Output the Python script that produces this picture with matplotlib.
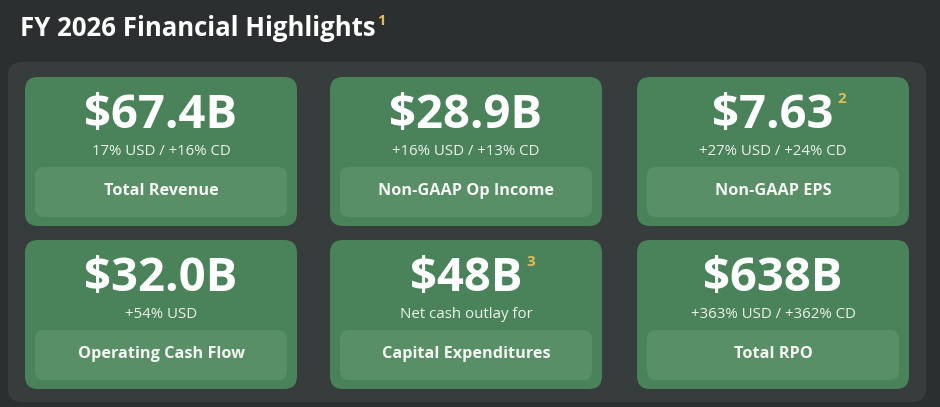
import matplotlib.pyplot as plt
from matplotlib.patches import FancyBboxPatch

# card contents, row by row
values = ["$67.4B", "$28.9B", "$7.63", "$32.0B", "$48B", "$638B"]
growth = ["17% USD / +16% CD", "+16% USD / +13% CD", "+27% USD / +24% CD",
          "+54% USD", "Net cash outlay for", "+363% USD / +362% CD"]
labels = ["Total Revenue", "Non-GAAP Op Income", "Non-GAAP EPS",
          "Operating Cash Flow", "Capital Expenditures", "Total RPO"]
notes = ["", "", "2", "", "3", ""]
title = "FY 2026 Financial Highlights"
title_note = "1"

BG = "#2b2f30"
PANEL = "#373c3d"
CARD = "#4a8259"
INNER = "#598f67"
GOLD = "#e3bd55"
FONT = "Open Sans"

fig = plt.figure(figsize=(9.4, 4.07), dpi=100, facecolor=BG)
ax = fig.add_axes([0, 0, 1, 1])
ax.set_xlim(0, 940)
ax.set_ylim(407, 0)
ax.axis("off")

# outer panel
ax.add_patch(FancyBboxPatch((8, 62), 918, 340, boxstyle="round,pad=0,rounding_size=14",
                            fc=PANEL, ec="none"))

card_x = [25, 330, 637]
card_y = [77, 240]
cw, ch = 272, 149

fig.canvas.draw()
rend = fig.canvas.get_renderer()
inv = ax.transData.inverted()

for i in range(6):
    x0 = card_x[i % 3]
    y0 = card_y[i // 3]
    cx = x0 + cw / 2
    ax.add_patch(FancyBboxPatch((x0, y0), cw, ch, boxstyle="round,pad=0,rounding_size=13",
                                fc=CARD, ec="none"))
    ax.add_patch(FancyBboxPatch((x0 + 10, y0 + 90), cw - 20, 50,
                                boxstyle="round,pad=0,rounding_size=9", fc=INNER, ec="none"))
    t = ax.text(cx, y0 + 51, values[i], ha="center", va="baseline", color="white",
                fontsize=34, fontweight="bold", family=FONT)
    ax.text(cx, y0 + 78, growth[i], ha="center", va="baseline", color="#eef3ee",
            fontsize=10.8, family=FONT)
    ax.text(cx, y0 + 114, labels[i], ha="center", va="center", color="#f4f7f4",
            fontsize=11.7, fontweight="bold", family=FONT)
    if notes[i]:
        bb = t.get_window_extent(rend)
        xr = inv.transform((bb.x1, bb.y1))[0]
        ax.text(xr + 4, y0 + 22, notes[i], ha="left", va="center", color=GOLD,
                fontsize=11, fontweight="bold", family=FONT)

tt = ax.text(20, 36, title, ha="left", va="baseline", color="white",
             fontsize=18.5, fontweight="bold", family=FONT)
bb = tt.get_window_extent(rend)
xr = inv.transform((bb.x1, bb.y1))[0]
ax.text(xr + 1, 21, title_note, ha="left", va="center", color=GOLD,
        fontsize=10.5, fontweight="bold", family=FONT)

fig.savefig("out.png", dpi=100, facecolor=BG)
